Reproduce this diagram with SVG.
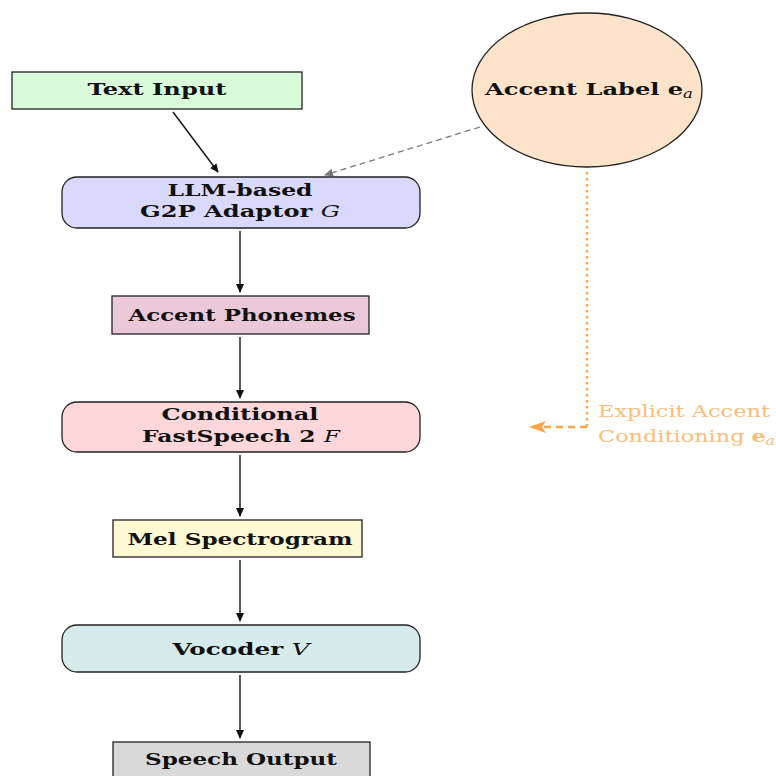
<svg xmlns="http://www.w3.org/2000/svg" width="776" height="776" viewBox="0 0 776 776">
<style>
.t{font-family:"DejaVu Serif","Liberation Serif",serif;font-weight:bold;font-size:17.5px;fill:#111;text-anchor:middle}
.m{font-style:italic;font-weight:normal}
.o{font-family:"DejaVu Serif","Liberation Serif",serif;font-size:17.5px;fill:#fbbd78}
.box{stroke:#222;stroke-width:1.3}
.ar{stroke:#111;stroke-width:1.4;fill:none}
</style>
<defs>
<marker id="ah" markerWidth="10" markerHeight="10" refX="8" refY="5" orient="auto" markerUnits="userSpaceOnUse"><path d="M0,1 L9,5 L0,9 Z" fill="#111"/></marker>
<marker id="ag" markerWidth="10" markerHeight="10" refX="8" refY="5" orient="auto" markerUnits="userSpaceOnUse"><path d="M0,1 L9,5 L0,9 Z" fill="#777"/></marker>
<marker id="ao" markerWidth="18" markerHeight="14" refX="16" refY="7" orient="auto" markerUnits="userSpaceOnUse"><path d="M0,1 L17,7 L0,13 L4,7 Z" fill="#fba54a"/></marker>
</defs>
<rect width="776" height="776" fill="#fff"/>
<g id="connectors">
<line class="ar" x1="173" y1="112" x2="218" y2="172" marker-end="url(#ah)"/>
<line class="ar" x1="240" y1="231" x2="240" y2="292" marker-end="url(#ah)"/>
<line class="ar" x1="240" y1="337" x2="240" y2="398" marker-end="url(#ah)"/>
<line class="ar" x1="240" y1="455" x2="240" y2="516" marker-end="url(#ah)"/>
<line class="ar" x1="240" y1="560" x2="240" y2="621" marker-end="url(#ah)"/>
<line class="ar" x1="240" y1="675" x2="240" y2="738" marker-end="url(#ah)"/>
<line x1="480" y1="127" x2="325" y2="175" stroke="#777" stroke-width="1.3" stroke-dasharray="6,4" marker-end="url(#ag)"/>
<path d="M587,172 L587,427" stroke="#fba54a" stroke-width="2.5" stroke-dasharray="2.5,3.5" fill="none"/>
<path d="M587,427 L530,427" stroke="#fba54a" stroke-width="2.5" stroke-dasharray="7,5" fill="none" marker-end="url(#ao)"/>
<text class="o" x="598" y="417" textLength="172" lengthAdjust="spacingAndGlyphs">Explicit Accent</text>
<text class="o" x="598" y="442" textLength="177" lengthAdjust="spacingAndGlyphs">Conditioning <tspan font-weight="bold">e</tspan><tspan class="m" font-size="12" dy="3">a</tspan></text>
</g>
<g id="text-input">
<rect class="box" x="12" y="72" width="290" height="37" fill="#d9fbd9"/>
<text class="t" x="157" y="95" textLength="139" lengthAdjust="spacingAndGlyphs">Text Input</text>
</g>
<g id="accent-label">
<ellipse class="box" cx="587" cy="90" rx="115" ry="77" fill="#fde3c9"/>
<text class="t" x="589" y="95" textLength="208" lengthAdjust="spacingAndGlyphs">Accent Label e<tspan class="m" font-size="12" dy="3">a</tspan></text>
</g>
<g id="g2p">
<rect class="box" x="62" y="177" width="358" height="51" rx="15" fill="#d9d9fb"/>
<text class="t" x="240" y="196" textLength="145" lengthAdjust="spacingAndGlyphs">LLM-based</text>
<text class="t" x="240" y="217" textLength="200" lengthAdjust="spacingAndGlyphs">G2P Adaptor <tspan class="m">G</tspan></text>
</g>
<g id="accent-phonemes">
<rect class="box" x="112" y="296" width="257" height="38" fill="#ebc8d7"/>
<text class="t" x="242" y="321" textLength="227" lengthAdjust="spacingAndGlyphs">Accent Phonemes</text>
</g>
<g id="fastspeech">
<rect class="box" x="62" y="402" width="358" height="50" rx="15" fill="#fdd7da"/>
<text class="t" x="240" y="420" textLength="157" lengthAdjust="spacingAndGlyphs">Conditional</text>
<text class="t" x="241" y="442" textLength="198" lengthAdjust="spacingAndGlyphs">FastSpeech 2 <tspan class="m">F</tspan></text>
</g>
<g id="mel">
<rect class="box" x="113" y="520" width="249" height="37" fill="#fdf9d2"/>
<text class="t" x="240" y="545" textLength="225" lengthAdjust="spacingAndGlyphs">Mel Spectrogram</text>
</g>
<g id="vocoder">
<rect class="box" x="62" y="625" width="358" height="47" rx="15" fill="#d6ebeb"/>
<text class="t" x="241" y="655" textLength="137" lengthAdjust="spacingAndGlyphs">Vocoder <tspan class="m">V</tspan></text>
</g>
<g id="speech-output">
<rect class="box" x="113" y="742" width="257" height="40" fill="#d9d9d9"/>
<text class="t" x="241" y="765" textLength="192" lengthAdjust="spacingAndGlyphs">Speech Output</text>
</g>
</svg>
